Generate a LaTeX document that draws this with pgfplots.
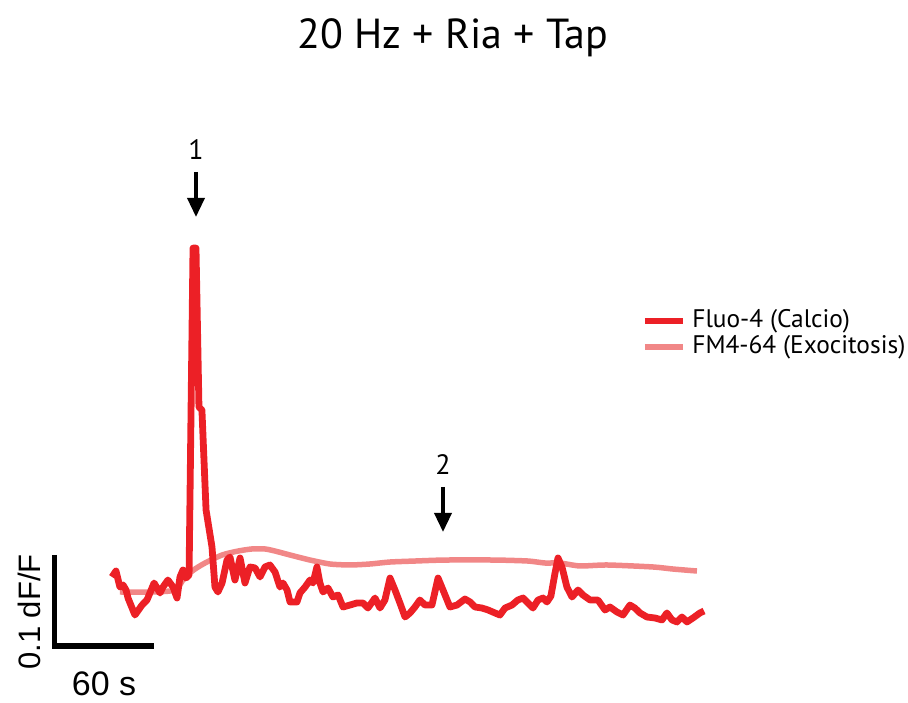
\documentclass[border=0pt]{standalone}
\usepackage{fontspec}
\setmainfont{PT Sans}
\newfontfamily\arialfont{Liberation Sans}
\usepackage{pgfplots}
\pgfplotsset{compat=1.18}
\usetikzlibrary{arrows.meta}
\definecolor{fluo}{RGB}{236,32,38}
\definecolor{fm}{RGB}{241,135,135}

\begin{document}
\begin{tikzpicture}
\begin{axis}[
    width=454pt, height=349pt, scale only axis,
    xmin=-67.88, xmax=482.42, ymin=-0.10889, ymax=0.66667,
    hide axis, clip=false,
]
\path (rel axis cs:0,0) rectangle (rel axis cs:1,1);
% FM4-64 (exocytosis)
\addplot[fm, line width=2.75pt, smooth, tension=0.4] coordinates {
    (4.8,0.0089) (23.0,0.0089) (38.2,0.0111) (44.2,0.0256) (50.3,0.0344)
    (56.4,0.0411) (66.7,0.0500) (76.4,0.0544) (84.8,0.0567) (92.7,0.0567)
    (98.8,0.0544) (107.9,0.0500) (120.0,0.0444) (132.1,0.0400) (144.2,0.0389)
    (156.3,0.0400) (168.5,0.0422) (183.6,0.0433) (201.8,0.0444) (232.1,0.0444)
    (252.1,0.0433) (262.4,0.0411) (271.5,0.0411) (283.6,0.0378) (300.0,0.0389)
    (327.8,0.0367) (340.0,0.0344) (354.5,0.0322)
};
% Fluo-4 (calcium)
\addplot[fluo, line width=3.4pt, line join=round] coordinates {
    (0,0.0256) (2.4,0.0322) (4.8,0.0144) (6.7,0.0167) (8.5,0.0111)
    (9.7,0.0022) (13.9,-0.0167) (18.2,-0.0056) (21.2,0) (25.5,0.0189)
    (29.1,0.0078) (30.9,0.0144) (33.9,0.0222) (37.0,0.0144) (39.4,0.0022)
    (41.2,0.0256) (43.0,0.0333) (44.8,0.0244) (46.7,0.0278) (49.1,0.391)
    (50.9,0.391) (52.7,0.2144) (54.5,0.2111) (57.0,0.1) (60.6,0.0589)
    (62.4,0.0144) (64.2,0.0089) (66.7,0.0189) (69.7,0.0444) (71.5,0.0478)
    (74.5,0.0222) (77.6,0.0467) (80.6,0.0189) (83.6,0.0367) (86.7,0.0356)
    (89.7,0.0256) (92.7,0.0367) (95.7,0.0389) (98.8,0.0311) (101.8,0.0144)
    (103.6,0.0189) (106.1,0.0111) (107.9,-0.0022) (112.1,-0.0022) (113.9,0.0078)
    (117.0,0.0144) (120.0,0.0222) (121.8,0.0189) (124.2,0.0367) (126.0,0.0189)
    (127.9,0.0089) (130.9,0.0133) (133.9,0.0033) (137.0,0.0056) (140.0,-0.0078)
    (144.2,-0.0056) (148.5,-0.0033) (152.1,-0.0033) (155.1,-0.0089) (159.4,0.0022)
    (162.4,-0.0089) (165.4,0) (168.5,0.0244) (171.5,0.0111) (174.5,-0.0033)
    (177.6,-0.0189) (180.6,-0.0144) (183.6,-0.0078) (186.6,0) (189.7,-0.0056)
    (193.9,-0.0056) (197.6,0.0244) (200.6,0.0111) (204.8,-0.0078) (209.1,-0.0056)
    (213.9,0.0011) (217.0,-0.0022) (220.0,-0.0078) (224.2,-0.0089) (227.9,-0.0111)
    (232.1,-0.0144) (235.1,-0.0167) (238.2,-0.0089) (242.4,-0.0056) (246.0,0)
    (249.1,0.0022) (252.1,-0.0033) (255.1,-0.0089) (258.2,0) (261.2,0.0022)
    (263.6,-0.0022) (266.0,0.0044) (268.5,0.03) (270.3,0.0467) (272.7,0.0367)
    (275.7,0.0144) (278.8,0.0033) (282.4,0.0111) (285.4,0.0056) (289.7,0)
    (294.5,0) (298.8,-0.0111) (301.8,-0.0078) (306.0,-0.0133) (309.7,-0.0167)
    (313.9,-0.0056) (316.9,-0.0089) (320.0,-0.0144) (324.2,-0.0189) (329.1,-0.02)
    (333.3,-0.0222) (336.3,-0.0144) (339.4,-0.0222) (342.4,-0.0244) (345.4,-0.0189)
    (348.5,-0.0244) (352.1,-0.02) (356.3,-0.0144) (358.8,-0.0122)
};
% title
\node[font=\fontsize{21}{24}\selectfont] at (axis cs:206.7,0.6244) {20 Hz + Ria + Tap};
% arrows
\node[font=\fontsize{14}{16}\selectfont] at (axis cs:50.9,0.5) {1};
\draw[line width=1.8pt, -{Triangle[width=8.5pt,length=9.5pt]}] (axis cs:50.9,0.4756) -- (axis cs:50.9,0.4256);
\node[font=\fontsize{14}{16}\selectfont] at (axis cs:200.6,0.15) {2};
\draw[line width=1.8pt, -{Triangle[width=8.5pt,length=9.5pt]}] (axis cs:200.6,0.1256) -- (axis cs:200.6,0.0756);
% legend
\draw[fluo, line width=2.8pt] (axis cs:323.0,0.31) -- (axis cs:346.1,0.31);
\node[anchor=west, font=\fontsize{12.7}{14}\selectfont, inner sep=0pt] at (axis cs:351.5,0.31) {Fluo-4 (Calcio)};
\draw[fm, line width=2.6pt] (axis cs:323.0,0.2811) -- (axis cs:346.1,0.2811);
\node[anchor=west, font=\fontsize{12.7}{14}\selectfont, inner sep=0pt] at (axis cs:351.5,0.2811) {FM4-64 (Exocitosis)};
% scale bar
\draw[line width=2.75pt, line join=miter] (axis cs:-34.85,0.05) -- (axis cs:-34.85,-0.0511) -- (axis cs:25.45,-0.0511);
\node[rotate=90, font=\arialfont\fontsize{15.5}{17}\selectfont] at (axis cs:-50.3,-0.0133) {0.1 dF/F};
\node[font=\arialfont\fontsize{17}{19}\selectfont] at (axis cs:-4.85,-0.0933) {60 s};
\end{axis}
\end{tikzpicture}
\end{document}
